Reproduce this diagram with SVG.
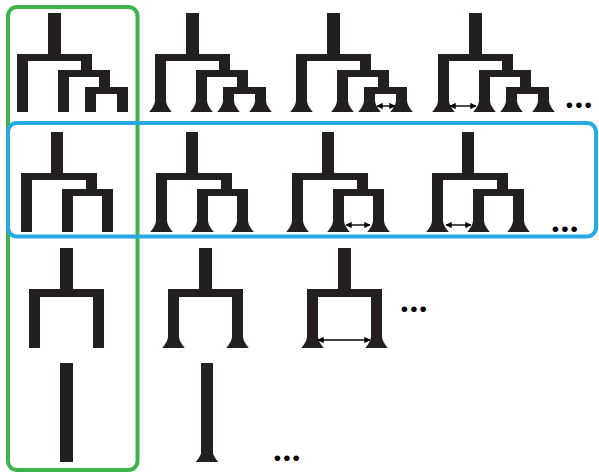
<svg xmlns="http://www.w3.org/2000/svg" xmlns:xlink="http://www.w3.org/1999/xlink" width="599" height="474" viewBox="0 0 599 474">
<style>
.tree{fill:#231f20}
.dots{font-family:Lato,"Liberation Sans",Arial,sans-serif;font-weight:700;font-size:37px;letter-spacing:0.6px;fill:#000}
.arr{stroke:#000;stroke-width:1.4;fill:none;marker-start:url(#ah);marker-end:url(#ah)}
.box{fill:none;stroke-width:4}
</style>
<defs>
<marker id="ah" viewBox="0 0 10 10" refX="9" refY="5" markerWidth="4.5" markerHeight="4.5" orient="auto-start-reverse" markerUnits="strokeWidth">
<path d="M0,0 L10,5 L0,10 Z" fill="#000"/>
</marker>
<path id="foot" d="M-5.5,101 Q-6,106 -11.3,112 H11.3 Q6,106 5.5,101 Z"/>
<path id="t4" d="M48,13h13v42h-13z M17,54h75v7h-75z M17,54h11v58h-11z M81,54h11v23h-11z M58,70h52v7h-52z M58,70h11v42h-11z M99,70h11v24h-11z M85,87h43v7h-43z M85,87h11v25h-11z M117,87h11v25h-11z"/>
<path id="t3" d="M51,132h12v42h-12z M21,173h76v7h-76z M21,173h11v59h-11z M86,173h11v23h-11z M62,189h51v7h-51z M62,189h11v43h-11z M102,189h11v43h-11z"/>
<path id="t2" d="M60,248h13v42h-13z M29,289h75v8h-75z M29,289h11v59h-11z M93,289h11v59h-11z"/>
</defs>
<g id="row4leaf">
<g id="t4c1" class="tree"><use xlink:href="#t4"/></g>
<g id="t4c2" class="tree" transform="translate(138,0)"><use xlink:href="#t4"/>
<use xlink:href="#foot" x="22.5"/><use xlink:href="#foot" x="63.5"/><use xlink:href="#foot" x="90.5"/><use xlink:href="#foot" x="122.5"/></g>
<g id="t4c3" class="tree" transform="translate(279,0)"><use xlink:href="#t4"/>
<use xlink:href="#foot" x="22.5"/><use xlink:href="#foot" x="63.5"/><use xlink:href="#foot" x="90.5"/><use xlink:href="#foot" x="122.5"/></g>
<g id="t4c4" class="tree" transform="translate(421,0)"><use xlink:href="#t4"/>
<use xlink:href="#foot" x="22.5"/><use xlink:href="#foot" x="63.5"/><use xlink:href="#foot" x="90.5"/><use xlink:href="#foot" x="122.5"/></g>
<text id="dots1" class="dots" x="565" y="107.5">...</text>
</g>
<g id="row3leaf">
<g id="t3c1" class="tree"><use xlink:href="#t3"/></g>
<g id="t3c2" class="tree" transform="translate(135,0)"><use xlink:href="#t3"/>
<use xlink:href="#foot" x="26.5" y="120"/><use xlink:href="#foot" x="67.5" y="120"/><use xlink:href="#foot" x="107.5" y="120"/></g>
<g id="t3c3" class="tree" transform="translate(271,0)"><use xlink:href="#t3"/>
<use xlink:href="#foot" x="26.5" y="120"/><use xlink:href="#foot" x="67.5" y="120"/><use xlink:href="#foot" x="107.5" y="120"/></g>
<g id="t3c4" class="tree" transform="translate(411,0)"><use xlink:href="#t3"/>
<use xlink:href="#foot" x="26.5" y="120"/><use xlink:href="#foot" x="67.5" y="120"/><use xlink:href="#foot" x="107.5" y="120"/></g>
<text id="dots2" class="dots" x="551" y="232">...</text>
</g>
<g id="row2leaf">
<g id="t2c1" class="tree"><use xlink:href="#t2"/></g>
<g id="t2c2" class="tree" transform="translate(139,0)"><use xlink:href="#t2"/>
<use xlink:href="#foot" x="34.5" y="236"/><use xlink:href="#foot" x="98.5" y="236"/></g>
<g id="t2c3" class="tree" transform="translate(278,0)"><use xlink:href="#t2"/>
<use xlink:href="#foot" x="34.5" y="236"/><use xlink:href="#foot" x="98.5" y="236"/></g>
<text id="dots3" class="dots" x="400" y="312">...</text>
</g>
<g id="row1leaf">
<g id="t1c1" class="tree"><rect x="60" y="363" width="13" height="99"/></g>
<g id="t1c2" class="tree"><rect x="201" y="363" width="12" height="99"/><use xlink:href="#foot" x="207" y="350"/></g>
<text id="dots4" class="dots" x="273" y="461">...</text>
</g>
<g id="connectors">
<line class="arr" x1="377" y1="106" x2="395" y2="106"/>
<line class="arr" x1="450" y1="106" x2="476" y2="106"/>
<line class="arr" x1="346" y1="225" x2="370" y2="225"/>
<line class="arr" x1="446" y1="225" x2="471" y2="225"/>
<line class="arr" x1="318" y1="340" x2="370" y2="340"/>
</g>
<g id="highlights">
<rect id="greenbox" class="box" x="8" y="7" width="129.5" height="463" rx="9" stroke="#3cb44b"/>
<rect id="bluebox" class="box" x="8" y="123" width="588" height="113.5" rx="9" stroke="#27aae1"/>
</g>
</svg>
